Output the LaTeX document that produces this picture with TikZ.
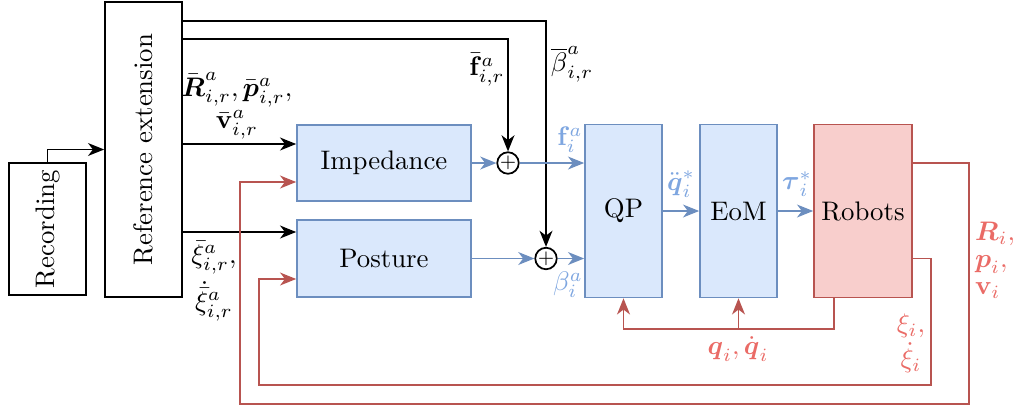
\documentclass[tikz,border=0pt]{standalone}
\usepackage{amsmath}
\usepackage{amssymb}
\usepackage{graphicx}
\usetikzlibrary{arrows.meta,positioning,calc}
\definecolor{boxblue}{HTML}{DAE8FC}
\definecolor{lineblue}{HTML}{6C8EBF}
\definecolor{labelblue}{HTML}{7EA6E0}
\definecolor{boxred}{HTML}{F8CECC}
\definecolor{linered}{HTML}{B85450}
\definecolor{labelred}{HTML}{EA6B66}

\begin{document}
\begin{tikzpicture}[x=0.0131cm,y=-0.0131cm,
    >={Stealth[length=6pt,width=4.8pt,inset=1.8pt]},
    plainbox/.style={draw,line width=0.65pt,inner sep=0pt},
    ctrlbox/.style={draw=lineblue,fill=boxblue,line width=0.65pt,inner sep=0pt},
    robotbox/.style={draw=linered,fill=boxred,line width=0.65pt,inner sep=0pt},
    sumnode/.style={draw,circle,line width=0.65pt,fill=white,inner sep=0pt,minimum size=0.26cm,font=\scriptsize},
    blackarr/.style={line width=0.65pt,->},
    bluearr/.style={lineblue,line width=0.65pt,->},
    redarr/.style={linered,line width=0.65pt,->},
    bluelabel/.style={text=labelblue,inner sep=1pt},
    redlabel/.style={text=labelred,inner sep=1pt}]
  \useasboundingbox (0,0) rectangle (1019,410);
  % blocks
  \node[plainbox,minimum width=1.009cm,minimum height=1.729cm] (rec) at (47.5,229)
    {\rotatebox{90}{Recording}};
  \node[plainbox,minimum width=1.009cm,minimum height=3.865cm] (ref) at (143.5,149.5)
    {\rotatebox{90}{Reference extension}};
  \node[ctrlbox,minimum width=2.279cm,minimum height=0.996cm] (imp) at (384,163) {Impedance};
  \node[ctrlbox,minimum width=2.279cm,minimum height=1.009cm] (post) at (384,258.5) {Posture};
  \node[sumnode] (sumf) at (508,163) {$+$};
  \node[sumnode] (sumb) at (546,258.5) {$+$};
  \node[ctrlbox,minimum width=1.009cm,minimum height=2.266cm] (qp) at (623.5,211) {QP};
  \node[ctrlbox,minimum width=1.009cm,minimum height=2.266cm] (eom) at (738.5,211) {EoM};
  \node[robotbox,minimum width=1.284cm,minimum height=2.266cm] (rob) at (863,211) {Robots};
  % references
  \draw[blackarr] (rec.north) |- (ref.west);
  \draw[blackarr] (ref.east |- 0,21) -| (sumb.north);
  \draw[blackarr] (ref.east |- 0,39) -| (sumf.north);
  \draw[blackarr] (ref.east |- 0,144) -- (imp.west |- 0,144);
  \draw[blackarr] (ref.east |- 0,232) -- (post.west |- 0,232);
  \node[align=center] (lblRp) at (237,106)
    {$\bar{\boldsymbol R}^a_{i,r},\bar{\boldsymbol p}^a_{i,r},$\\$\bar{\mathbf v}^a_{i,r}$};
  \node[align=center] (lblxi) at (214,281)
    {$\bar\xi^a_{i,r},$\\[2pt]$\dot{\bar\xi}^a_{i,r}$};
  \node (lblf) at (487,70) {$\bar{\mathbf f}^a_{i,r}$};
  \node (lblbeta) at (572,64) {$\overline{\beta}^a_{i,r}$};
  % controller
  \draw[bluearr] (imp.east) -- (sumf.west);
  \draw[bluearr] (sumf.east) -- (qp.west |- sumf);
  \draw[bluearr] (post.east) -- (sumb.west);
  \draw[bluearr] (sumb.east) -- (qp.west |- sumb);
  \draw[bluearr] (qp) -- (eom);
  \draw[bluearr] (eom) -- (rob);
  \node[bluelabel] (lblfi) at (570,140) {$\mathbf f^a_i$};
  \node[bluelabel] (lblbi) at (568,285) {$\beta^a_i$};
  \node[bluelabel] (lblqdd) at (681,184) {$\ddot{\boldsymbol q}^*_i$};
  \node[bluelabel] (lbltau) at (797,184) {$\boldsymbol\tau^*_i$};
  % feedback
  \coordinate (qfb) at ($(rob.south west)!0.21!(rob.south east)+(0,31)$);
  \draw[redarr] ($(rob.south west)!0.21!(rob.south east)$) -- (qfb) -| (qp.south);
  \draw[redarr] (eom.south |- qfb) -- (eom.south);
  \node[redlabel] (lblq) at (738,349) {$\boldsymbol q_i,\dot{\boldsymbol q}_i$};
  \draw[redarr] (rob.east |- imp.east) -| (969,404) -| (240,182) -- (imp.west |- 0,182);
  \draw[redarr] (rob.east |- post.east) -| (931,385) -| (259,279) -- (post.west |- 0,279);
  \node[redlabel,align=left] (lblRpv) at (995,260)
    {$\boldsymbol R_i,$\\[-2pt]$\boldsymbol p_i,$\\[-2pt]$\mathbf v_i$};
  \node[redlabel,align=center] (lblxii) at (911,343) {$\xi_i,$\\[1pt]$\dot\xi_i$};
\end{tikzpicture}
\end{document}
